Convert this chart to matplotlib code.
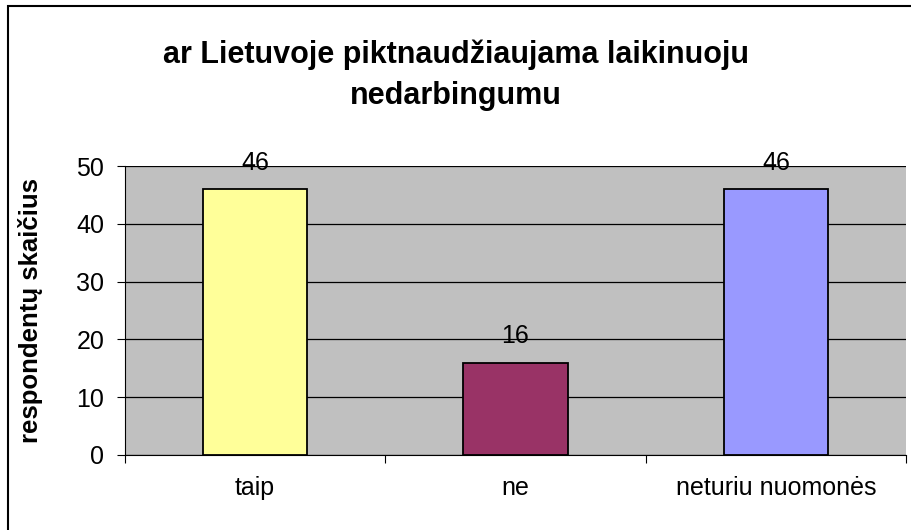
import matplotlib.pyplot as plt
from matplotlib.patches import Rectangle

categories = ['taip', 'ne', 'neturiu nuomonės']
values = [46, 16, 46]
colors = ['#FFFF99', '#993366', '#9999FF']
title_lines = ['ar Lietuvoje piktnaudžiaujama laikinuoju', 'nedarbingumu']
ylabel = 'respondentų skaičius'

plt.rcParams['font.family'] = ['Liberation Sans', 'DejaVu Sans']

W, H = 912, 530
fig = plt.figure(figsize=(W / 100, H / 100), dpi=100)
# plot area: x 125..906, y 166..455 (pixels from top)
ax = fig.add_axes([125 / W, (H - 455) / H, 781 / W, 289 / H])

# outer chart frame (right/bottom edges fall outside the picture)
fig.patches.append(Rectangle((8 / W, -0.05), 1.0, (H - 6) / H + 0.05,
                             transform=fig.transFigure, fill=False,
                             edgecolor='black', linewidth=1.5))

ax.set_facecolor('#C0C0C0')
x = list(range(len(categories)))
bars = ax.bar(x, values, width=0.40, color=colors, edgecolor='black',
              linewidth=1.3, zorder=3)
for b, v in zip(bars, values):
    ax.annotate(str(v), (b.get_x() + b.get_width() / 2, v),
                xytext=(0, 14), textcoords='offset points',
                ha='center', va='baseline', fontsize=18)

ax.set_xlim(-0.5, len(categories) - 0.5)
ax.set_ylim(0, 50)
ax.set_yticks(range(0, 51, 10))
ax.yaxis.grid(True, color='black', linewidth=0.9, zorder=0)
ax.set_axisbelow(True)

# category boundaries get the tick marks, names sit between them
ax.set_xticks([i - 0.5 for i in range(len(categories) + 1)])
ax.set_xticklabels([])
ax.set_xticks(x, minor=True)
ax.set_xticklabels(categories, minor=True, fontsize=18)
ax.tick_params(axis='x', which='minor', length=0, pad=15)
ax.tick_params(axis='x', which='major', length=6, direction='out')
ax.tick_params(axis='y', labelsize=18, length=6, pad=9, direction='out')

for s in ['top', 'right']:
    ax.spines[s].set_visible(False)

ax.set_ylabel(ylabel, fontsize=18.5, fontweight='bold')
ax.yaxis.set_label_coords(-0.105, 0.5)

fig.text(0.5, (H - 63) / H, title_lines[0], ha='center', va='baseline',
         fontsize=22, fontweight='bold')
fig.text(0.5, (H - 104) / H, title_lines[1], ha='center', va='baseline',
         fontsize=22, fontweight='bold')

fig.savefig('out.png', dpi=100)
